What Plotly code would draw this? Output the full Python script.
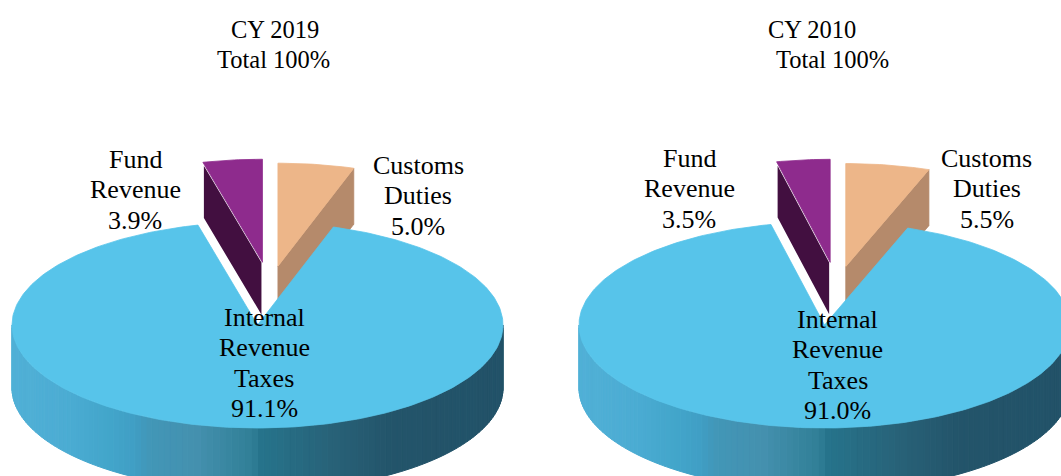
import numpy as np
import plotly.graph_objects as go

# ---------------- data ----------------
categories = ["Customs Duties", "Internal Revenue Taxes", "Fund Revenue"]  # clockwise from 12 o'clock
values_2019 = [5.0, 91.1, 3.9]
values_2010 = [5.5, 91.0, 3.5]
years = ["CY 2019", "CY 2010"]
exploded = [True, False, True]

# ---------------- styles ----------------
top_colors = ["#EDB689", "#57C4EA", "#8E2B8D"]
face_colors = ["#B58A6B", "#3F8DAA", "#420F40"]
side_stops = [(-1.00, (80, 176, 214)), (-0.78, (76, 172, 211)), (-0.60, (66, 165, 202)),
              (-0.50, (64, 158, 196)), (-0.45, (66, 151, 184)), (-0.25, (68, 144, 174)),
              (-0.02, (48, 126, 150)), (0.00, (38, 116, 140)), (0.30, (40, 98, 120)),
              (0.55, (35, 84, 106)), (1.00, (34, 82, 104))]
FONT = "Liberation Serif"
W, H = 1061, 476
RX, RY = 245.5, 103.0
DEPTH_FRONT = 63.0
DEPTH_BACK = 56.0
EXPLODE_X, EXPLODE_Y, EXPLODE_ROT = 57.0, 63.0, 12.0
LINE_PITCH = 30.5

pies = [
    dict(cx=257.5, cy=325.0, title_dx=(17.0, 16.0), title_y=(29.0, 59.0),
         label_off=[(160.5, -160.0), (6.5, -8.0), (-122.5, -166.0)]),
    dict(cx=824.5, cy=325.0, title_dx=(-12.5, 8.0), title_y=(29.0, 59.0),
         label_off=[(162.0, -167.0), (13.0, -6.0), (-135.5, -167.0)]),
]


def pt(cx, cy, ang, r=1.0, z=0.0, depth=0.0):
    a = np.radians(ang)
    return cx + RX * r * np.sin(a), cy - RY * r * np.cos(a) + z * depth


def arc(cx, cy, a0, a1, z=0.0, depth=0.0):
    n = max(2, int(abs(a1 - a0) / 1.0) + 2)
    angs = np.linspace(a0, a1, n)
    xs, ys = pt(cx, cy, angs, 1.0, z, depth)
    return list(xs), list(ys)


def side_color(t):
    for (t0, c0), (t1, c1) in zip(side_stops[:-1], side_stops[1:]):
        if t0 <= t <= t1:
            f = 0 if t1 == t0 else (t - t0) / (t1 - t0)
            c = [int(round(c0[i] + f * (c1[i] - c0[i]))) for i in range(3)]
            return "rgb(%d,%d,%d)" % tuple(c)
    return "rgb(%d,%d,%d)" % side_stops[-1][1]


def poly(fig, xs, ys, fill, line_color=None, line_width=0.8):
    fig.add_trace(go.Scatter(
        x=xs + [xs[0]], y=ys + [ys[0]], mode="lines", fill="toself",
        fillcolor=fill, line=dict(color=line_color or fill, width=line_width),
        hoverinfo="skip", showlegend=False))


fig = go.Figure()
annotations = []

for pie, values, year in zip(pies, [values_2019, values_2010], years):
    cx, cy = pie["cx"], pie["cy"]
    total = sum(values)
    spans = [v / total * 360.0 for v in values]
    starts = np.concatenate([[0.0], np.cumsum(spans)[:-1]])
    ends = starts + np.array(spans)

    centers = []
    for i in range(len(values)):
        if exploded[i]:
            phi = (starts[i] + ends[i]) / 2.0
            a = np.radians(phi + EXPLODE_ROT)
            centers.append((cx + EXPLODE_X * np.sin(a), cy - EXPLODE_Y * np.cos(a), DEPTH_BACK))
        else:
            centers.append((cx, cy, DEPTH_FRONT))

    # 1. front side wall of non-exploded slices (gradient strips)
    for i in range(len(values)):
        if exploded[i]:
            continue
        scx, scy, d = centers[i]
        lo, hi = max(90.0, starts[i]), min(270.0, ends[i])
        edges = np.linspace(lo, hi, 121)
        for a0, a1 in zip(edges[:-1], edges[1:]):
            x0t, y0t = pt(scx, scy, a0)
            x1t, y1t = pt(scx, scy, a1)
            x0b, y0b = pt(scx, scy, a0, 1.0, 1.0, d)
            x1b, y1b = pt(scx, scy, a1, 1.0, 1.0, d)
            t = np.sin(np.radians((a0 + a1) / 2.0))
            c = side_color(t)
            poly(fig, [x0t, x1t, x1b, x0b], [y0t, y1t, y1b, y0b], c, c, 1.0)

    # 2. visible radial faces of exploded slices
    for i in range(len(values)):
        if not exploded[i]:
            continue
        scx, scy, d = centers[i]
        for ang, visible in ((starts[i], np.sin(np.radians(starts[i])) < -1e-6),
                             (ends[i], np.sin(np.radians(ends[i])) > 1e-6)):
            if not visible:
                continue
            xo, yo = pt(scx, scy, ang)
            xb, yb = pt(scx, scy, ang, 1.0, 1.0, d)
            outline = "white" if i == len(values) - 1 else face_colors[i]
            poly(fig, [scx, xo, xb, scx], [scy, yo, yb, scy + d], face_colors[i],
                 outline, 2.0 if outline == "white" else 0.8)

    # 3. top faces: main slice first, then exploded slices
    order = [i for i in range(len(values)) if not exploded[i]] + \
            [i for i in range(len(values)) if exploded[i]]
    for i in order:
        scx, scy, d = centers[i]
        xs, ys = arc(scx, scy, starts[i], ends[i])
        poly(fig, [scx] + xs, [scy] + ys, top_colors[i], top_colors[i], 0.8)

    # labels
    for i, name in enumerate(categories):
        lines = name.split(" ") + ["%.1f%%" % values[i]]
        dx, dy = pie["label_off"][i]
        for k, txt in enumerate(lines):
            annotations.append(dict(
                x=cx + dx, y=cy + dy + k * LINE_PITCH, xref="x", yref="y",
                text=txt, showarrow=False, xanchor="center", yanchor="middle",
                font=dict(family=FONT, size=26, color="black")))

    # titles
    for txt, tdx, ty in zip([year, "Total %d%%" % round(total)], pie["title_dx"], pie["title_y"]):
        annotations.append(dict(
            x=cx + tdx, y=ty, xref="x", yref="y", text=txt, showarrow=False,
            xanchor="center", yanchor="middle",
            font=dict(family=FONT, size=24.5, color="black")))

fig.update_layout(
    width=W, height=H, margin=dict(l=0, r=0, t=0, b=0),
    paper_bgcolor="white", plot_bgcolor="white",
    xaxis=dict(range=[0, W], visible=False, fixedrange=True),
    yaxis=dict(range=[H, 0], visible=False, fixedrange=True),
    annotations=annotations, showlegend=False,
)
fig.write_html(
    "out.html",
    config=dict(displayModeBar=False),
    post_script="document.body.style.margin='0px';document.body.style.overflow='hidden';",
)
